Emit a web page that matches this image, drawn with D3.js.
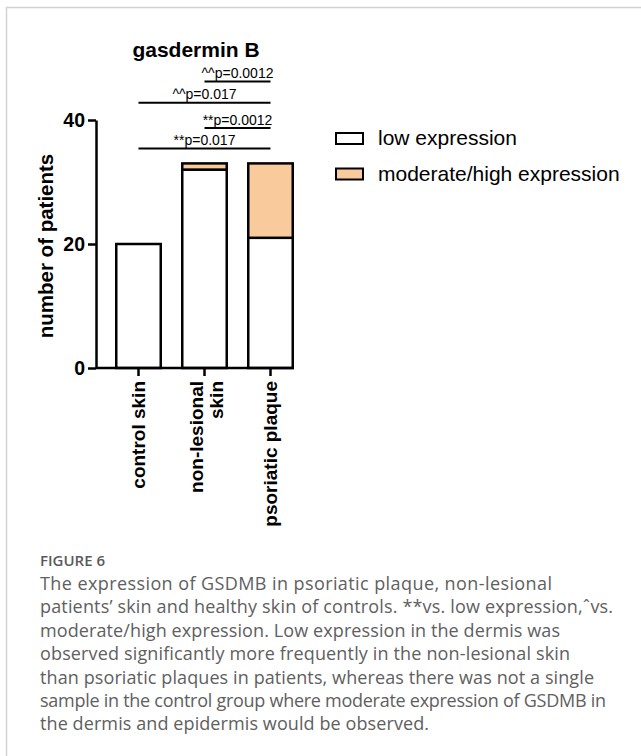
<!DOCTYPE html>
<html>
<head>
<meta charset="utf-8">
<script src="https://cdn.jsdelivr.net/npm/d3@7"></script>
<style>
  body { margin: 0; background: #fff; }
  svg { display: block; }
</style>
</head>
<body>
<svg id="chart" width="641" height="756"></svg>
<script>
const categories = ["control skin", "non-lesional\nskin", "psoriatic plaque"];
const seriesNames = ["low expression", "moderate/high expression"];
const lowValues = [20, 32, 21];
const highValues = [0, 1, 12];
const yTicks = [0, 20, 40];

// significance brackets: from / to category index, level in y units
const compFrom = [0, 1, 0, 1];
const compTo = [2, 2, 2, 2];
const compLevel = [35.4, 38.7, 42.8, 46.2];
const compLabels = ["**p=0.017", "**p=0.0012", "^^p=0.017", "^^p=0.0012"];

const captionTitle = "FIGURE 6";
const captionLines = [
    "The expression of GSDMB in psoriatic plaque, non-lesional",
    "patients\u2019 skin and healthy skin of controls. **vs. low expression,\u02c6vs.",
    "moderate/high expression. Low expression in the dermis was",
    "observed significantly more frequently in the non-lesional skin",
    "than psoriatic plaques in patients, whereas there was not a single",
    "sample in the control group where moderate expression of GSDMB in",
    "the dermis and epidermis would be observed."
];
// line widths
const captionWidths = [512, 573, 520, 530, 554, 566, 389];

const colors = ["#ffffff", "#f9cb9c"];

const svg = d3.select("#chart");
const chartFont = "'Liberation Sans', Arial, sans-serif";

// frame
svg.append("path")
    .attr("d", "M6.5,756V7.5H641")
    .attr("fill", "none")
    .attr("stroke", "#d2d2d2")
    .attr("stroke-width", 1.5);

const x = d3.scaleBand()
    .domain(categories)
    .range([105.5, 303.5])
    .paddingInner(0.326)
    .paddingOuter(0.163);

const y = d3.scaleLinear()
    .domain([0, 40])
    .range([368, 120]);

const stack = categories.map((c, i) => ({
    cat: c,
    parts: [
        { y0: 0, y1: lowValues[i], color: colors[0] },
        { y0: lowValues[i], y1: lowValues[i] + highValues[i], color: colors[1] }
    ]
}));

// bars
const barG = svg.append("g");
stack.forEach(d => {
    d.parts.filter(p => p.y1 > p.y0).forEach(p => {
        barG.append("rect")
            .attr("x", x(d.cat))
            .attr("width", x.bandwidth())
            .attr("y", y(p.y1))
            .attr("height", y(p.y0) - y(p.y1))
            .attr("fill", p.color)
            .attr("stroke", "#000")
            .attr("stroke-width", 2.5);
    });
});

// y axis
const yAxis = svg.append("g")
    .attr("transform", "translate(96,0)")
    .call(d3.axisLeft(y).tickValues(yTicks).tickSize(8).tickSizeOuter(0).tickPadding(3));
yAxis.select(".domain").attr("stroke-width", 2.5);
yAxis.selectAll(".tick line").attr("stroke-width", 2.5);
yAxis.selectAll(".tick text")
    .attr("font-family", chartFont)
    .attr("font-weight", "bold")
    .attr("font-size", 19.5)
    .attr("fill", "#000");

// x axis
const xAxis = svg.append("g")
    .attr("transform", "translate(0,368)")
    .call(d3.axisBottom(x).tickSize(8).tickSizeOuter(0).tickFormat(""));
xAxis.select(".domain")
    .attr("d", `M96,0H${x(categories[2]) + x.bandwidth() + 1}`)
    .attr("stroke-width", 2.5);
xAxis.selectAll(".tick line").attr("stroke-width", 2.5);

// category labels, rotated
categories.forEach(c => {
    const lines = c.split("\n");
    const cx = x(c) + x.bandwidth() / 2;
    const t = svg.append("text")
        .attr("transform", `translate(${cx},381) rotate(-90)`)
        .attr("text-anchor", "end")
        .attr("font-family", chartFont)
        .attr("font-weight", "bold")
        .attr("font-size", 19)
        .attr("fill", "#000");
    lines.forEach((ln, i) => {
        t.append("tspan")
            .attr("x", 0)
            .attr("dy", i === 0 ? (0.35 - (lines.length - 1) * 0.45) + "em" : "1.05em")
            .text(ln);
    });
});

// y axis title
svg.append("text")
    .attr("transform", "translate(53,246) rotate(-90)")
    .attr("text-anchor", "middle")
    .attr("font-family", chartFont)
    .attr("font-weight", "bold")
    .attr("font-size", 20.5)
    .text("number of patients");

// chart title
svg.append("text")
    .attr("x", 196)
    .attr("y", 57)
    .attr("text-anchor", "middle")
    .attr("font-family", chartFont)
    .attr("font-weight", "bold")
    .attr("font-size", 21)
    .text("gasdermin B");

// significance lines
compLabels.forEach((lab, i) => {
    const x1 = x(categories[compFrom[i]]) + x.bandwidth() / 2;
    const x2 = x(categories[compTo[i]]) + x.bandwidth() / 2;
    const ly = y(compLevel[i]);
    svg.append("line")
        .attr("x1", x1).attr("x2", x2)
        .attr("y1", ly).attr("y2", ly)
        .attr("stroke", "#000")
        .attr("stroke-width", 2);
    svg.append("text")
        .attr("x", (x1 + x2) / 2)
        .attr("y", ly - 3.5)
        .attr("text-anchor", "middle")
        .attr("font-family", chartFont)
        .attr("font-size", 14)
        .text(lab);
});

// legend
const legend = svg.append("g").attr("transform", "translate(336,133)");
seriesNames.forEach((s, i) => {
    const g = legend.append("g").attr("transform", `translate(0,${i * 35.5})`);
    g.append("rect")
        .attr("width", 27)
        .attr("height", 11)
        .attr("fill", colors[i])
        .attr("stroke", "#000")
        .attr("stroke-width", 2);
    g.append("text")
        .attr("x", 42)
        .attr("y", 12)
        .attr("font-family", chartFont)
        .attr("font-size", 21)
        .text(s);
});

// caption
svg.append("text")
    .attr("x", 40)
    .attr("y", 566)
    .attr("font-family", "'Open Sans', 'Noto Sans', sans-serif")
    .attr("font-weight", 600)
    .attr("font-size", 15)
    .attr("fill", "#5a5a5a")
    .text(captionTitle);

svg.append("g").selectAll("text")
    .data(captionLines)
    .enter()
    .append("text")
    .attr("x", 40)
    .attr("y", (d, i) => 590 + i * 23.4)
    .attr("font-family", "'Open Sans', 'Noto Sans', sans-serif")
    .attr("font-size", 18)
    .attr("fill", "#606060")
    .attr("textLength", (d, i) => captionWidths[i])
    .attr("lengthAdjust", "spacing")
    .text(d => d);
</script>
</body>
</html>
